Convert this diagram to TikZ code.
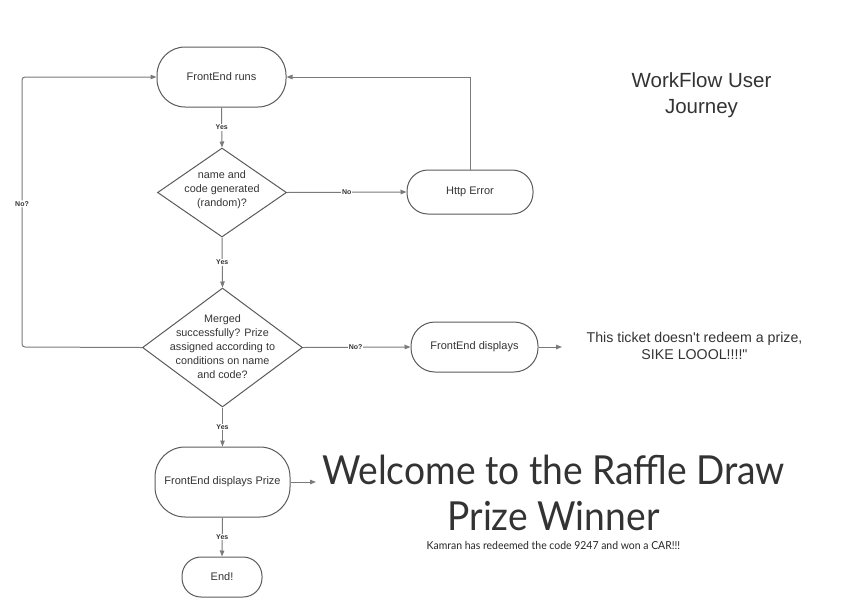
\documentclass[tikz,border=0pt]{standalone}
\usepackage{fontspec}
\usepackage{graphicx}
\setmainfont{Liberation Sans}
\newfontfamily\rawfont[Ligatures=TeXOff]{Liberation Sans}
\newfontfamily\bigfont{Lato}
\usetikzlibrary{arrows.meta,shapes.geometric,calc}
\definecolor{linegray}{HTML}{7A7A7A}
\definecolor{boxgray}{HTML}{5A5A5A}
\definecolor{txtgray}{HTML}{333333}
\tikzset{
  x=1pt,y=-1pt,
  flow/.style={draw=linegray,line width=1pt,-{Triangle[length=6pt,width=4.5pt]}},
  term/.style={draw=boxgray,line width=1pt,minimum width=#1,align=center,font=\fontsize{11}{13}\selectfont,text=txtgray,inner sep=0pt},
  dia/.style={draw=boxgray,line width=1pt,shape=diamond,inner sep=0pt},
  diatext/.style={align=center,font=\fontsize{10.8}{14}\selectfont,text=txtgray,inner sep=0pt},
  lbl/.style={fill=white,font=\bfseries\fontsize{7}{8}\selectfont,text=txtgray,inner sep=1pt},
}
\begin{document}
\begin{tikzpicture}
\useasboundingbox (0,0) rectangle (856,611);
% nodes
\node[term=129pt,minimum height=60pt,rounded corners=28pt] (run) at (221.5,77) {FrontEnd runs};
\node[dia,minimum width=129pt,minimum height=89pt] (d1) at (222,192.5) {};
\node[diatext] (d1t) at (222,190) {name and\\code generated\\(random)?};
\node[term=126pt,minimum height=44pt,rounded corners=21pt] (http) at (470,192) {Http Error};
\node[dia,minimum width=160pt,minimum height=119pt] (d2) at (222.5,347.5) {};
\node[diatext] (d2t) at (222.5,347) {Merged\\successfully? Prize\\assigned according to\\conditions on name\\and code?};
\node[term=127pt,minimum height=50pt,rounded corners=24pt] (disp) at (474.5,347) {FrontEnd displays};
\node[term=135pt,minimum height=70pt,rounded corners=30pt] (prize) at (222.5,482) {FrontEnd displays Prize};
\node[term=80pt,minimum height=40pt,rounded corners=19pt] (end) at (222,577) {End!};
\coordinate (dispout) at (562,347);
\coordinate (prizeout) at (316,482);
\coordinate (lcorner1) at (22,347);
\coordinate (lcorner2) at (22,77);
\coordinate (rcorner) at (470,77);
% text
\node[align=center,font=\rawfont\fontsize{14.2}{17}\selectfont,text=txtgray] (sike) at (694.5,345.5) {This ticket doesn't redeem a prize,\\SIKE LOOOL!!!!"};
\node[align=center,font=\fontsize{20.5}{26}\selectfont,text=txtgray] (title) at (701.5,95) {WorkFlow User\\Journey};
\node[align=center,inner sep=0pt,text=black!80,font=\bigfont\fontsize{40}{46}\selectfont] (welcome) at (553.5,493) {\scalebox{0.93}[1]{Welcome to the Raffle Draw}\\\scalebox{0.93}[1]{Prize Winner}};
\node[inner sep=0pt,text=black!85] (kamran) at (553.5,545) {\scalebox{0.95}[1]{\bigfont\fontsize{11}{12}\selectfont Kamran has redeemed the code 9247 and won a CAR!!!}};
% connectors
\draw[flow] (run.south) -- node[lbl]{Yes} (d1.north);
\draw[flow] (d1.east) -- node[lbl]{No} (http.west);
\draw[flow] (http.north) -- (rcorner) -- (run.east);
\draw[flow] (d1.south) -- node[lbl]{Yes} (d2.north);
\draw[flow,rounded corners=3pt] (d2.west) -- (lcorner1) -- node[lbl,pos=0.53]{No?} (lcorner2) -- (run.west);
\draw[flow] (d2.east) -- node[lbl,pos=0.49]{No?} (disp.west);
\draw[flow] (disp.east) -- (dispout);
\draw[flow] (d2.south) -- node[lbl]{Yes} (prize.north);
\draw[flow] (prize.east) -- (prizeout);
\draw[flow] (prize.south) -- node[lbl]{Yes} (end.north);
\end{tikzpicture}
\end{document}
